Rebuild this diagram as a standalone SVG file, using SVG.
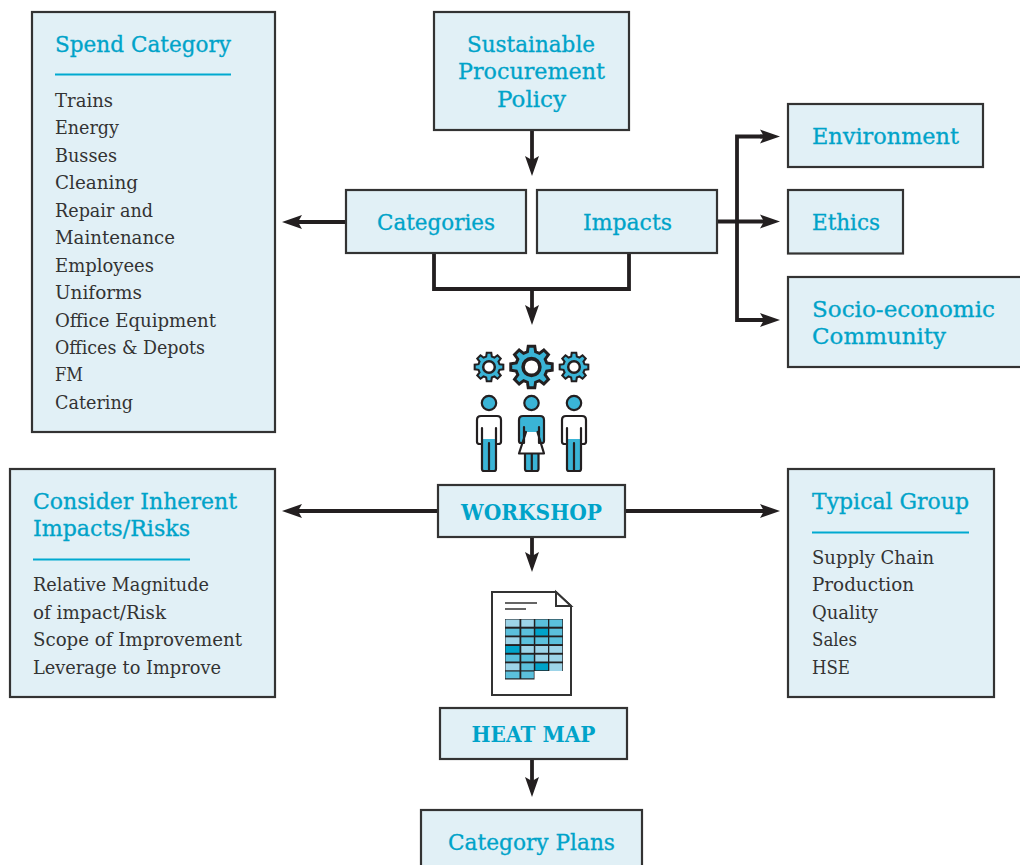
<svg xmlns="http://www.w3.org/2000/svg" width="1020" height="865" viewBox="0 0 1020 865">
<style>
.box{fill:#e1f0f6;stroke:#333;stroke-width:2.2}
text{font-family:"DejaVu Serif","Liberation Serif",serif}
.h{fill:#00a3c9;font-size:21.5px;stroke:#00a3c9;stroke-width:.3}
.b{fill:#333;font-size:18.5px}
.c{text-anchor:middle}
.bold{font-weight:bold;stroke:none}
.rule{stroke:#00a9d0;stroke-width:1.8;fill:none}
.conn{fill:none;stroke:#231f20;stroke-width:3.8}
.gear{fill:#3ab4d6;stroke:#231f20;stroke-width:1.4;stroke-linejoin:miter}
.hub{fill:#fff;stroke:#231f20;stroke-width:1.7}
.ink{stroke:#231f20;stroke-width:2.2;fill:none;stroke-linejoin:round;stroke-linecap:round}
.bl{fill:#3ab4d6}
.wh{fill:#fff}
.head{fill:#3ab4d6;stroke:#231f20;stroke-width:2.2}
.doc{fill:#fff;stroke:#333;stroke-width:2}
.L{fill:#9dd4e8}.M{fill:#5bc0dc}.D{fill:#00a3c9}
</style>
<defs>
<marker id="arr" markerUnits="userSpaceOnUse" markerWidth="22" markerHeight="18" refX="10" refY="9" orient="auto">
<path d="M0 2 L20 9 L0 16 L4 9 Z" fill="#231f20"/>
</marker>
<g id="gearShape">
<path class="gear" d="M7.24-1.94L9.88-1.56L9.88 1.56L7.24 1.94L6.5 3.75L8.09 5.88L5.88 8.09L3.75 6.5L1.94 7.24L1.56 9.88L-1.56 9.88L-1.94 7.24L-3.75 6.5L-5.88 8.09L-8.09 5.88L-6.5 3.75L-7.24 1.94L-9.88 1.56L-9.88-1.56L-7.24-1.94L-6.5-3.75L-8.09-5.88L-5.88-8.09L-3.75-6.5L-1.94-7.24L-1.56-9.88L1.56-9.88L1.94-7.24L3.75-6.5L5.88-8.09L8.09-5.88L6.5-3.75Z"/>
<circle class="hub" r="4"/>
</g>
<g id="man">
<circle class="head" cx="0" cy="-13" r="7.200"/>
<path class="wh" d="M-12 4 Q-12 0 -8 0 H8 Q12 0 12 4 V27 Q12 28 8 28 H7 V23 H-7 V28 H-8 Q-12 28 -12 27 Z"/>
<rect class="bl" x="-7" y="23" width="14" height="32"/>
<path class="ink" d="M-7 12 V53 Q-7 55 -5 55 H5 Q7 55 7 53 V12 M0 27 V55 M-7 28 H-9 Q-12 28 -12 26 V4 Q-12 0 -8 0 H8 Q12 0 12 4 V26 Q12 28 9 28 H7"/>
</g>
</defs>

<g id="connectors">
<path class="conn" d="M532 130V166" marker-end="url(#arr)"/>
<path class="conn" d="M346 222H292" marker-end="url(#arr)"/>
<path class="conn" d="M434 253V289H629V253"/>
<path class="conn" d="M532 289V315" marker-end="url(#arr)"/>
<path class="conn" d="M717 221.500H770" marker-end="url(#arr)"/>
<path class="conn" d="M770 136.500H737V320H770" marker-end="url(#arr)"/>
<path class="conn" d="M760 136.500H770" marker-end="url(#arr)"/>
<path class="conn" d="M438 511H292" marker-end="url(#arr)"/>
<path class="conn" d="M625 511H770" marker-end="url(#arr)"/>
<path class="conn" d="M532 537V562" marker-end="url(#arr)"/>
<path class="conn" d="M532 759V787" marker-end="url(#arr)"/>
</g>

<g id="spend-category">
<rect class="box" x="32" y="12" width="243" height="420"/>
<text class="h" x="55" y="52" textLength="176" lengthAdjust="spacingAndGlyphs">Spend Category</text>
<path class="rule" d="M55 74.500H231"/>
<text class="b" x="55" y="107" textLength="58" lengthAdjust="spacingAndGlyphs">Trains</text>
<text class="b" x="55" y="134" textLength="64" lengthAdjust="spacingAndGlyphs">Energy</text>
<text class="b" x="55" y="162" textLength="62" lengthAdjust="spacingAndGlyphs">Busses</text>
<text class="b" x="55" y="189" textLength="83" lengthAdjust="spacingAndGlyphs">Cleaning</text>
<text class="b" x="55" y="217" textLength="98" lengthAdjust="spacingAndGlyphs">Repair and</text>
<text class="b" x="55" y="244" textLength="120" lengthAdjust="spacingAndGlyphs">Maintenance</text>
<text class="b" x="55" y="272" textLength="99" lengthAdjust="spacingAndGlyphs">Employees</text>
<text class="b" x="55" y="299" textLength="87" lengthAdjust="spacingAndGlyphs">Uniforms</text>
<text class="b" x="55" y="327" textLength="161" lengthAdjust="spacingAndGlyphs">Office Equipment</text>
<text class="b" x="55" y="354" textLength="150" lengthAdjust="spacingAndGlyphs">Offices &amp; Depots</text>
<text class="b" x="55" y="381" textLength="28" lengthAdjust="spacingAndGlyphs">FM</text>
<text class="b" x="55" y="409" textLength="78" lengthAdjust="spacingAndGlyphs">Catering</text>
</g>

<g id="policy">
<rect class="box" x="434" y="12" width="195" height="118"/>
<text class="h" x="467" y="52" textLength="128" lengthAdjust="spacingAndGlyphs">Sustainable</text>
<text class="h" x="458" y="79" textLength="147" lengthAdjust="spacingAndGlyphs">Procurement</text>
<text class="h" x="497" y="107" textLength="69" lengthAdjust="spacingAndGlyphs">Policy</text>
</g>

<g id="categories">
<rect class="box" x="346" y="190" width="180" height="63"/>
<text class="h" x="377" y="230" textLength="118" lengthAdjust="spacingAndGlyphs">Categories</text>
</g>
<g id="impacts">
<rect class="box" x="537" y="190" width="180" height="63"/>
<text class="h" x="583" y="230" textLength="89" lengthAdjust="spacingAndGlyphs">Impacts</text>
</g>
<g id="environment">
<rect class="box" x="788" y="104" width="195" height="63"/>
<text class="h" x="812" y="144" textLength="147" lengthAdjust="spacingAndGlyphs">Environment</text>
</g>
<g id="ethics">
<rect class="box" x="788" y="190" width="115" height="63.500"/>
<text class="h" x="812" y="230" textLength="68" lengthAdjust="spacingAndGlyphs">Ethics</text>
</g>
<g id="socio">
<rect class="box" x="788" y="277" width="240" height="90"/>
<text class="h" x="812" y="317" textLength="183" lengthAdjust="spacingAndGlyphs">Socio-economic</text>
<text class="h" x="812" y="344" textLength="134" lengthAdjust="spacingAndGlyphs">Community</text>
</g>

<g id="people-icon">
<use href="#gearShape" transform="translate(489 367) scale(1.450)"/>
<use href="#gearShape" transform="translate(531.500 367) scale(2.100)"/>
<use href="#gearShape" transform="translate(574 367) scale(1.450)"/>
<use href="#man" transform="translate(489 416)"/>
<use href="#man" transform="translate(574 416)"/>
<circle class="head" cx="531.500" cy="403" r="7.200"/>
<rect class="bl" x="525" y="452" width="13.500" height="18"/>
<path class="wh" d="M526 432H537.500L544 453.500H519Z"/>
<path class="bl" d="M519 420Q519 416 523 416H540Q544 416 544 420V441Q544 443 542 443H539L537.500 432H526L524 443H521Q519 443 519 441Z"/>
<path class="ink" d="M526 432L519 453.500H544L537.500 432M525 453.500V469Q525 471 527 471H536.500Q538.500 471 538.500 469V453.500M531.800 453.500V471M524 443H521Q519 443 519 441V420Q519 416 523 416H540Q544 416 544 420V441Q544 443 542 443H539M524 427V443M539 427V443"/>
</g>

<g id="workshop">
<rect class="box" x="438" y="485" width="187" height="52"/>
<text class="h c bold" x="531.500" y="520" textLength="141" lengthAdjust="spacingAndGlyphs">WORKSHOP</text>
</g>

<g id="consider">
<rect class="box" x="10" y="469" width="265" height="228"/>
<text class="h" x="33" y="509" textLength="204" lengthAdjust="spacingAndGlyphs">Consider Inherent</text>
<text class="h" x="33" y="536" textLength="157" lengthAdjust="spacingAndGlyphs">Impacts/Risks</text>
<path class="rule" d="M33 559.500H190"/>
<text class="b" x="33" y="591" textLength="176" lengthAdjust="spacingAndGlyphs">Relative Magnitude</text>
<text class="b" x="33" y="619" textLength="133" lengthAdjust="spacingAndGlyphs">of impact/Risk</text>
<text class="b" x="33" y="646" textLength="209" lengthAdjust="spacingAndGlyphs">Scope of Improvement</text>
<text class="b" x="33" y="674" textLength="188" lengthAdjust="spacingAndGlyphs">Leverage to Improve</text>
</g>

<g id="typical-group">
<rect class="box" x="788" y="469" width="206" height="228"/>
<text class="h" x="812" y="509" textLength="157" lengthAdjust="spacingAndGlyphs">Typical Group</text>
<path class="rule" d="M812 532.500H969"/>
<text class="b" x="812" y="564" textLength="122" lengthAdjust="spacingAndGlyphs">Supply Chain</text>
<text class="b" x="812" y="591" textLength="102" lengthAdjust="spacingAndGlyphs">Production</text>
<text class="b" x="812" y="619" textLength="66" lengthAdjust="spacingAndGlyphs">Quality</text>
<text class="b" x="812" y="646" textLength="45" lengthAdjust="spacingAndGlyphs">Sales</text>
<text class="b" x="812" y="674" textLength="38" lengthAdjust="spacingAndGlyphs">HSE</text>
</g>

<g id="document-icon">
<path class="doc" d="M492 592H556L571 606V695H492Z"/>
<path class="doc" d="M556 592V606H571Z"/>
<path d="M505 603H537M505 609H526" stroke="#333" stroke-width="1.600" fill="none"/>
<rect x="505" y="619" width="58" height="52" fill="#231f20"/>
<rect x="505" y="671" width="29.500" height="8.500" fill="#231f20"/>
<rect class="L" x="505.500" y="619.500" width="14" height="7.200"/><rect class="L" x="521.300" y="619.500" width="12.500" height="7.200"/><rect class="M" x="535.300" y="619.500" width="12.700" height="7.200"/><rect class="M" x="549.300" y="619.500" width="13" height="7.200"/>
<rect class="M" x="505.500" y="628.700" width="14" height="6.800"/><rect class="M" x="521.300" y="628.700" width="12.500" height="6.800"/><rect class="D" x="535.300" y="628.700" width="12.700" height="6.800"/><rect class="M" x="549.300" y="628.700" width="13" height="6.800"/>
<rect class="L" x="505.500" y="637.300" width="14" height="6.800"/><rect class="M" x="521.300" y="637.300" width="12.500" height="6.800"/><rect class="M" x="535.300" y="637.300" width="12.700" height="6.800"/><rect class="M" x="549.300" y="637.300" width="13" height="6.800"/>
<rect class="D" x="505.500" y="646" width="14" height="6.800"/><rect class="L" x="521.300" y="646" width="12.500" height="6.800"/><rect class="L" x="535.300" y="646" width="12.700" height="6.800"/><rect class="L" x="549.300" y="646" width="13" height="6.800"/>
<rect class="M" x="505.500" y="654.700" width="14" height="6.800"/><rect class="M" x="521.300" y="654.700" width="12.500" height="6.800"/><rect class="L" x="535.300" y="654.700" width="12.700" height="6.800"/><rect class="L" x="549.300" y="654.700" width="13" height="6.800"/>
<rect class="L" x="505.500" y="663.300" width="14" height="7"/><rect class="M" x="521.300" y="663.300" width="12.500" height="7"/><rect class="D" x="535.300" y="663.300" width="12.700" height="7"/><rect class="L" x="549.300" y="663.300" width="13" height="7.700"/>
<rect class="M" x="505.500" y="671.500" width="14" height="6.800"/><rect class="M" x="521.300" y="671.500" width="12.500" height="6.800"/>
</g>

<g id="heat-map">
<rect class="box" x="440" y="708" width="187" height="51"/>
<text class="h c bold" x="533.500" y="742" textLength="124" lengthAdjust="spacingAndGlyphs">HEAT MAP</text>
</g>
<g id="category-plans">
<rect class="box" x="421" y="810" width="221" height="62"/>
<text class="h c" x="531.500" y="850" textLength="167" lengthAdjust="spacingAndGlyphs">Category Plans</text>
</g>
</svg>
